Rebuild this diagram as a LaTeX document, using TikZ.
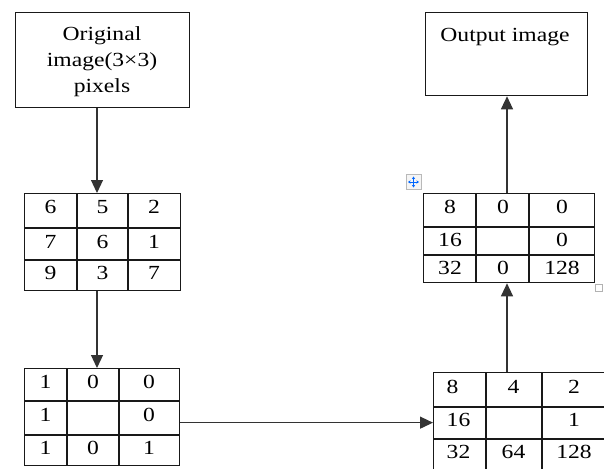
\documentclass[tikz,border=0pt]{standalone}
\usepackage{fontspec}
\setmainfont{Liberation Serif}[FakeStretch=1.18]
\usetikzlibrary{arrows.meta}
\tikzset{
  box/.style={draw=black!90, line width=1.3pt, inner sep=0pt, anchor=north west},
  txt/.style={font=\fontsize{20}{26}\selectfont, inner sep=0pt},
  conn/.style={draw=black!80, line width=1.2pt, -{Triangle[width=12pt,length=13pt]}},
  gridline/.style={draw=black!90, line width=1.2pt},
}
\begin{document}
\begin{tikzpicture}[x=1pt,y=-1pt]
\useasboundingbox (0,0) rectangle (604,468);
\clip (0,0) rectangle (604,468);

% boxes
\node[box, minimum width=174pt, minimum height=95pt] (b1) at (15,12) {};
\node[txt, align=center] (b1t) at (102,62) {Original\\image(3×3)\\pixels};
\node[box, minimum width=162pt, minimum height=83pt] (out) at (425,12) {};
\node[txt, anchor=base] (outt) at (505,42) {Output image};

% table 1
\node[box, minimum width=156pt, minimum height=97pt] (t1) at (24,193) {};
\draw[gridline] (77,193) -- (77,290) (128,193) -- (128,290)
                (24,228) -- (180,228) (24,260) -- (180,260);
\foreach \v/\x/\y [count=\i] in {6/50.5/207,5/102.5/207,2/154/207,
                                 7/50.5/242,6/102.5/242,1/154/242,
                                 9/50.5/273,3/102.5/273,7/154/273}
  \node[txt] (ta\i) at (\x,\y) {\v};

% table 2
\node[box, minimum width=155pt, minimum height=97pt] (t2) at (24,368) {};
\draw[gridline] (67,368) -- (67,465) (119,368) -- (119,465)
                (24,401) -- (179,401) (24,435) -- (179,435);
\foreach \v/\x/\y [count=\i] in {1/45.5/382,0/93/382,0/149/382,
                                 1/45.5/415,0/149/415,
                                 1/45.5/448,0/93/448,1/149/448}
  \node[txt] (tb\i) at (\x,\y) {\v};

% table 3
\node[box, minimum width=173pt, minimum height=100pt] (t3) at (433,372) {};
\draw[gridline] (486,372) -- (486,472) (542,372) -- (542,472)
                (433,407) -- (606,407) (433,439) -- (606,439);
\foreach \v/\y [count=\i] in {8/387,16/420,32/452}
  \node[txt, anchor=west] (tc\i) at (446.5,\y) {\v};
\foreach \v/\x/\y [count=\i] in {4/513.5/387,64/513.5/452,
                                 2/574/387,1/574/420,128/574/452}
  \node[txt] (td\i) at (\x,\y) {\v};

% table 4
\node[box, minimum width=171pt, minimum height=89pt] (t4) at (423,193) {};
\draw[gridline] (476,193) -- (476,282) (529,193) -- (529,282)
                (423,227) -- (594,227) (423,255) -- (594,255);
\foreach \v/\x/\y [count=\i] in {8/450/207,0/503/207,0/562/207,
                                 16/450/240,0/562/240,
                                 32/450/268,0/503/268,128/562/268}
  \node[txt] (te\i) at (\x,\y) {\v};

% table handles
\node[draw=gray!55, fill=gray!8, line width=0.8pt, minimum size=15pt, inner sep=0pt] (mv) at (413.5,182) {};
\draw[blue!60!cyan, line width=0.9pt, {Stealth[length=2.6pt,width=3.4pt]}-{Stealth[length=2.6pt,width=3.4pt]}]
  ([xshift=-5.5pt]mv.center) -- ([xshift=5.5pt]mv.center);
\draw[blue!60!cyan, line width=0.9pt, {Stealth[length=2.6pt,width=3.4pt]}-{Stealth[length=2.6pt,width=3.4pt]}]
  ([yshift=-5.5pt]mv.center) -- ([yshift=5.5pt]mv.center);
\node[draw=gray!60, fill=white, line width=0.8pt, minimum size=7pt, inner sep=0pt] (rs) at (598.5,287.5) {};

% connectors
\coordinate (lx) at (97,0);
\coordinate (rx) at (507,0);
\draw[conn] (b1.south -| lx) -- (t1.north -| lx);
\draw[conn] (t1.south -| lx) -- (t2.north -| lx);
\draw[conn] (t2.east |- t3.west) -- (t3.west);
\draw[conn] (t3.north -| rx) -- (t4.south -| rx);
\draw[conn] (t4.north -| rx) -- (out.south -| rx);
\end{tikzpicture}
\end{document}
